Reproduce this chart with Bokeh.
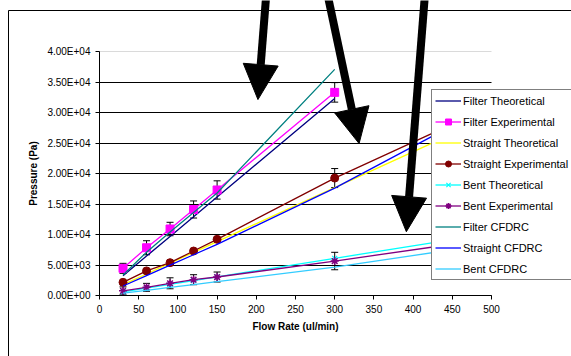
from bokeh.plotting import figure
from bokeh.models import (ColumnDataSource, Range1d, FixedTicker, CustomJSTickFormatter,
                          Legend, LegendItem, Whisker, TeeHead, Arrow, NormalHead,
                          BoxAnnotation, Grid, LinearAxis)
from bokeh.embed import file_html
from bokeh.resources import INLINE

# ---------------- data ----------------
flow = [30, 60, 90, 120, 150, 300]
flow_ext = [30, 60, 90, 120, 150, 300, 450]

filter_theoretical = [3230, 6460, 9690, 12920, 16150, 32300]
filter_experimental = [4450, 7830, 10900, 14100, 17300, 33300]
filter_exp_err = [820, 1150, 1100, 1400, 1500, 1600]
straight_theoretical = [1770, 3530, 5300, 7070, 8840, 17670, 26500]
straight_experimental = [2160, 4030, 5380, 7290, 9210, 19250, 28100]
straight_exp_err = [0, 0, 0, 0, 0, 1560]
bent_theoretical = [610, 1220, 1830, 2440, 3050, 6100, 9150]
bent_experimental = [760, 1340, 2000, 2590, 3030, 5650, 8400]
bent_exp_err = [650, 650, 900, 820, 820, 1430]
filter_cfdrc = [3360, 7100, 10400, 13600, 16800, 37070]
straight_cfdrc = [1560, 3270, 4980, 6680, 8390, 17600, 27860]
bent_cfdrc = [380, 850, 1320, 1790, 2260, 4650, 7500]

x_ticks = [0, 50, 100, 150, 200, 250, 300, 350, 400, 450, 500]
y_ticks = [0, 5000, 10000, 15000, 20000, 25000, 30000, 35000, 40000]

# annotation arrows (data coordinates: start -> tip)
arrow_start_x = [212.8, 290.6, 415.2]
arrow_start_y = [49500, 49500, 49500]
arrow_tip_x = [202.1, 331.1, 391.4]
arrow_tip_y = [32120, 24910, 10460]

FONT = "Liberation Sans"

# ---------------- layout (pixel placement of the plot area) ----------------
W, H = 571, 356
PX_LEFT, PX_RIGHT = 99, 491      # x = 0 .. 500
PX_TOP, PX_BOTTOM = 51, 295      # y = 40000 .. 0
X0, X1 = 0, 500
Y0, Y1 = 0, 40000
sx = (PX_RIGHT - PX_LEFT) / (X1 - X0)
sy = (PX_BOTTOM - PX_TOP) / (Y1 - Y0)
x_range = Range1d(X0 - PX_LEFT / sx, X1 + (W - PX_RIGHT) / sx)
y_range = Range1d(Y0 - (H - PX_BOTTOM) / sy, Y1 + PX_TOP / sy)

p = figure(width=W, height=H, x_range=x_range, y_range=y_range,
           x_axis_type=None, y_axis_type=None,
           output_backend="svg", toolbar_location=None,
           min_border=0, min_border_left=0, min_border_right=0,
           min_border_top=0, min_border_bottom=0)
p.outline_line_color = None
p.background_fill_color = "white"
p.border_fill_color = "white"

# axes (fixed at the data origin, bounded to the plot area)
xaxis = LinearAxis(fixed_location=0, bounds=(X0, X1), ticker=FixedTicker(ticks=x_ticks))
yaxis = LinearAxis(fixed_location=0, bounds=(Y0, Y1), ticker=FixedTicker(ticks=y_ticks))
yaxis.formatter = CustomJSTickFormatter(code="""
const s = tick.toExponential(2).toUpperCase();
const parts = s.split("E");
const sign = parts[1][0];
let d = parts[1].slice(1);
while (d.length < 2) { d = "0" + d; }
return parts[0] + "E" + sign + d;
""")
for ax in (xaxis, yaxis):
    ax.axis_line_color = "black"
    ax.major_tick_line_color = "black"
    ax.major_tick_out = 4
    ax.major_tick_in = 0
    ax.minor_tick_line_color = None
    ax.major_label_text_font = FONT
    ax.major_label_text_font_size = "10px"
    ax.major_label_text_color = "black"
    ax.axis_label_text_font = FONT
    ax.axis_label_text_font_size = "10px"
    ax.axis_label_text_font_style = "bold"
    ax.axis_label_text_color = "black"
xaxis.major_label_standoff = 5
yaxis.major_label_standoff = 5
xaxis.axis_label = "Flow Rate (ul/min)"
yaxis.axis_label = "Pressure (Pa)"
xaxis.axis_label_standoff = 5
yaxis.axis_label_standoff = 5

# grid
p.add_layout(Grid(dimension=1, ticker=FixedTicker(ticks=y_ticks[:-1]),
                  cross_bounds=(X0, X1), grid_line_color="black", grid_line_width=1))
p.add_layout(Grid(dimension=1, ticker=FixedTicker(ticks=[y_ticks[-1]]),
                  cross_bounds=(X0, X1), grid_line_color="#DADADA", grid_line_width=1))

LW = 1.3
r_ft = p.line(flow, filter_theoretical, line_color="#000080", line_width=LW)
r_fe_l = p.line(flow, filter_experimental, line_color="#FF00FF", line_width=LW)
r_fe_m = p.scatter(flow, filter_experimental, marker="square", size=8,
                   fill_color="#FF00FF", line_color="#FF00FF")
r_st = p.line(flow_ext, straight_theoretical, line_color="#FFFF00", line_width=LW)
r_se_l = p.line(flow_ext, straight_experimental, line_color="#800000", line_width=LW)
r_se_m = p.scatter(flow_ext, straight_experimental, marker="circle", size=8,
                   fill_color="#800000", line_color="#800000")
r_bt_l = p.line(flow_ext, bent_theoretical, line_color="#00FFFF", line_width=LW)
r_bt_m = p.scatter(flow_ext, bent_theoretical, marker="x", size=7,
                   line_color="#00FFFF", line_width=1.2)
r_be_l = p.line(flow_ext, bent_experimental, line_color="#800080", line_width=LW)
r_be_m = p.scatter(flow_ext, bent_experimental, marker="asterisk", size=8,
                   line_color="#800080", line_width=1.5)
r_fc = p.line(flow, filter_cfdrc, line_color="#008080", line_width=LW)
r_sc = p.line(flow_ext, straight_cfdrc, line_color="#0000FF", line_width=LW)
r_bc = p.line(flow_ext, bent_cfdrc, line_color="#33CCFF", line_width=LW)

# axes drawn above the grid/lines
p.add_layout(xaxis, "below")
p.add_layout(yaxis, "left")

# error bars (only where a bar is shown)
def add_err(vals, errs):
    pts = [(x, v, e) for x, v, e in zip(flow, vals, errs) if e > 0]
    src = ColumnDataSource(dict(x=[t[0] for t in pts],
                                upper=[t[1] + t[2] for t in pts],
                                lower=[t[1] - t[2] for t in pts]))
    w = Whisker(base="x", upper="upper", lower="lower", source=src,
                line_color="black", line_width=1,
                upper_head=TeeHead(size=7, line_color="black", line_width=1),
                lower_head=TeeHead(size=7, line_color="black", line_width=1))
    p.add_layout(w)

add_err(filter_experimental, filter_exp_err)
add_err(straight_experimental[:6], straight_exp_err)
add_err(bent_experimental[:6], bent_exp_err)

legend = Legend(items=[
    LegendItem(label="Filter Theoretical", renderers=[r_ft]),
    LegendItem(label="Filter Experimental", renderers=[r_fe_l, r_fe_m]),
    LegendItem(label="Straight Theoretical", renderers=[r_st]),
    LegendItem(label="Straight Experimental", renderers=[r_se_l, r_se_m]),
    LegendItem(label="Bent Theoretical", renderers=[r_bt_l, r_bt_m]),
    LegendItem(label="Bent Experimental", renderers=[r_be_l, r_be_m]),
    LegendItem(label="Filter CFDRC", renderers=[r_fc]),
    LegendItem(label="Straight CFDRC", renderers=[r_sc]),
    LegendItem(label="Bent CFDRC", renderers=[r_bc]),
], location=(431, 76))
legend.border_line_color = "black"
legend.border_line_width = 1
legend.background_fill_color = "white"
legend.background_fill_alpha = 1
legend.label_text_font = FONT
legend.label_text_font_size = "11px"
legend.label_text_color = "black"
legend.glyph_width = 26
legend.glyph_height = 15
legend.label_height = 15
legend.spacing = 6
legend.padding = 3
legend.margin = 0
legend.label_standoff = 2
p.add_layout(legend)

# outer chart border
p.add_layout(BoxAnnotation(left=X0 - (PX_LEFT - 8) / sx, right=X1 + 400,
                           top=Y0 + (PX_BOTTOM - 10) / sy, bottom=Y0 - 30000,
                           fill_alpha=0, fill_color=None, line_color="black",
                           line_width=1, line_alpha=1))

# big arrows
for ax_, ay_, ex_, ey_ in zip(arrow_start_x, arrow_start_y, arrow_tip_x, arrow_tip_y):
    p.add_layout(Arrow(x_start=ax_, y_start=ay_, x_end=ex_, y_end=ey_,
                       line_width=8, line_color="black",
                       end=NormalHead(size=35, fill_color="black", line_color="black",
                                      line_width=1)))

open("out.html", "w").write(file_html(p, INLINE))
